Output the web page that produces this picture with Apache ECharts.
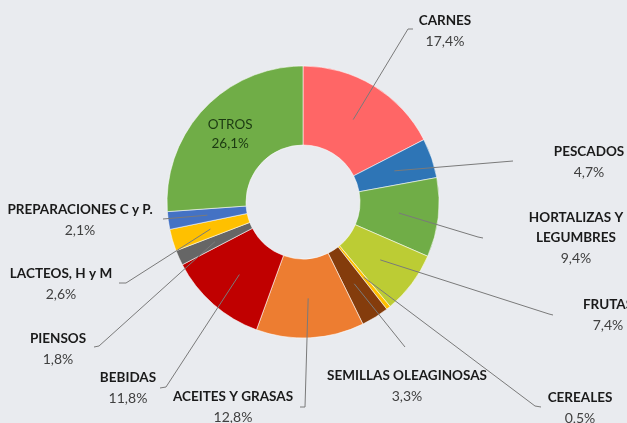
<!DOCTYPE html>
<html>
<head>
<meta charset="utf-8">
<script src="https://cdn.jsdelivr.net/npm/echarts@6/dist/echarts.min.js"></script>
<style>
	html, body { margin: 0; padding: 0; background: #e9ebef; }
	#chart { width: 627px; height: 423px; }
</style>
</head>
<body>
<div id="chart"></div>
<script>
	// data, clockwise from 12 o'clock
	const categories = [
		'CARNES', 'PESCADOS', 'HORTALIZAS Y\nLEGUMBRES', 'FRUTAS', 'CEREALES',
		'SEMILLAS OLEAGINOSAS', 'ACEITES Y GRASAS', 'BEBIDAS', 'PIENSOS',
		'LACTEOS, H y M', 'PREPARACIONES C y P.', 'OTROS'
	]
	const shares = [17.4, 4.7, 9.4, 7.4, 0.5, 3.3, 12.8, 11.8, 1.8, 2.6, 2.1, 26.1]
	const colors = [
		'#ff6666', '#2e75b6', '#70ad47', '#bccc34', '#ffc000',
		'#843c0c', '#ed7d31', '#c00000', '#666666',
		'#ffc000', '#4472c4', '#70ad47'
	]

	// label placement (label block centre, elbow and end of leader line)
	const labelPos = [
		[445, 31], [589, 162], [576, 238], [608, 315], [580, 408],
		[407, 386], [233, 407], [128, 388], [58, 349],
		[61, 284], [80, 220], null
	]
	const lineElbow = [
		[408, 29], [513, 161], [478, 237], [549, 314], [535, 406],
		[405, 347], [305, 407], [166, 387], [99, 346],
		[126, 283], [163, 219], null
	]
	const lineEnd = [
		[413, 29], [513, 161], [483, 238], [553, 315], [541, 407],
		[405, 347], [300, 407], [160, 388], [94, 347],
		[119, 283], [163, 219], null
	]

	const center = [303, 202]
	const radius = [57, 136]
	const total = shares.reduce((a, b) => a + b, 0)

	// middle of the ring at the slice's mid angle
	const ringPoint = function(i) {
		let before = 0
		for (let k = 0; k < i; k++) before += shares[k]
		const a = (before + shares[i] / 2) / total * 2 * Math.PI
		const r = (radius[0] + radius[1]) / 2
		return [center[0] + r * Math.sin(a), center[1] - r * Math.cos(a)]
	}

	const pct = v => v.toFixed(1).replace('.', ',') + '%'

	const data = categories.map((name, i) => {
		let item = {
			name: name,
			value: shares[i],
			itemStyle: { color: colors[i] }
		}
		if (name === 'OTROS') {
			item.label = {
				position: 'inside',
				formatter: p => '{o|' + p.name + '}\n{o|' + pct(p.value) + '}'
			}
		}
		return item
	})

	// leader lines, from inside each slice out to its label
	const leaders = []
	categories.forEach((name, i) => {
		if (!lineElbow[i]) return
		leaders.push({
			type: 'polyline',
			z: 100,
			silent: true,
			shape: { points: [ringPoint(i), lineElbow[i], lineEnd[i]] },
			style: { stroke: '#7a7a7a', lineWidth: 1, fill: null }
		})
	})

	const option = {
		backgroundColor: '#e9ebef',
		animation: false,
		graphic: leaders,
		series: [{
			type: 'pie',
			center: center,
			radius: radius,
			startAngle: 90,
			clockwise: true,
			avoidLabelOverlap: false,
			itemStyle: {
				borderColor: 'rgba(255,255,255,0.55)',
				borderWidth: 1
			},
			emphasis: { disabled: true },
			label: {
				show: true,
				position: 'outside',
				formatter: p => '{b|' + p.name + '}\n{p|' + pct(p.value) + '}',
				rich: {
					b: {
						fontFamily: 'Lato',
						fontWeight: 'bold',
						fontSize: 13.5,
						color: '#1a1a1a',
						lineHeight: 20,
						align: 'center'
					},
					p: {
						fontFamily: 'Lato',
						fontSize: 14,
						color: '#404040',
						lineHeight: 20,
						align: 'center'
					},
					o: {
						fontFamily: 'Lato',
						fontSize: 13.5,
						color: '#1c3a12',
						lineHeight: 19,
						align: 'center'
					}
				}
			},
			labelLine: { show: false },
			labelLayout: function(params) {
				const i = params.dataIndex
				if (!labelPos[i]) return {}
				return {
					x: labelPos[i][0],
					y: labelPos[i][1],
					align: 'center',
					verticalAlign: 'middle'
				}
			},
			data: data
		}]
	}

	let myChart = echarts.init(document.getElementById('chart'))
	myChart.setOption(option)
</script>
</body>
</html>
